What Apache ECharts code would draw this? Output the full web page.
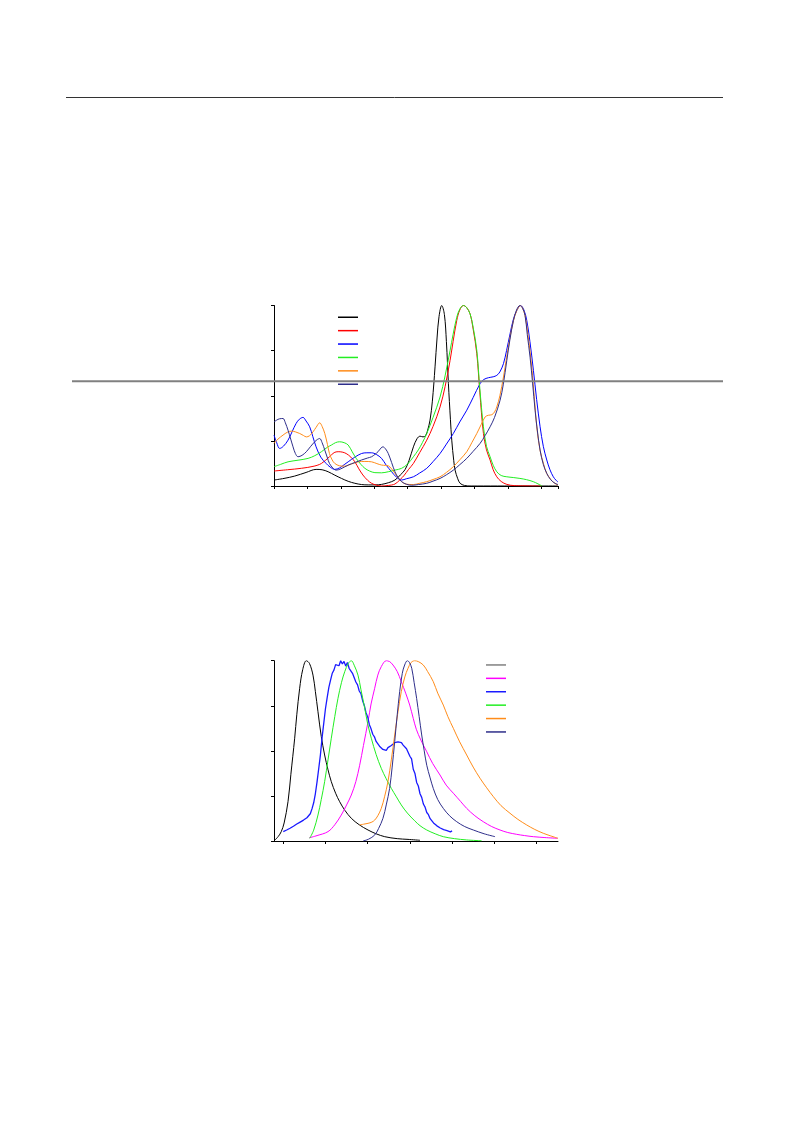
<!DOCTYPE html>
<html>
<head>
<meta charset="utf-8">
<script src="https://cdn.jsdelivr.net/npm/echarts@6/dist/echarts.min.js"></script>
<style>
html,body{margin:0;padding:0;background:#fff;}
#c{width:793px;height:1123px;}
</style>
</head>
<body>
<div id="c"></div>
<script>
// ---------- Chart 1 (absorption) ----------
const absNames = ['A1','A2','A3','A4','A5','A6'];
const absColors = ['#000000','#ff0000','#0000ff','#22ee22','#ff8c1a','#2e2e8a'];
const absBlack = [[250,0.033],[265,0.042],[281,0.055],[298,0.075],[313,0.092],[322,0.09],[331,0.079],[341,0.06],[351,0.042],[361,0.026],[371,0.015],[381,0.008],[391,0.006],[401,0.006],[411,0.009],[421,0.018],[431,0.033],[439,0.061],[446,0.09],[452,0.14],[458.6,0.217],[464,0.262],[468.6,0.276],[473,0.272],[477,0.28],[480,0.31],[483.5,0.365],[487,0.47],[491,0.66],[494,0.82],[497,0.94],[501,1.0],[505,0.95],[508,0.8],[511,0.567],[514,0.37],[516,0.254],[519,0.14],[521,0.088],[525,0.04],[528.5,0.015],[535,0.003],[545,0],[675,0]];
const absRed = [[250,0.083],[270,0.09],[291,0.098],[310,0.11],[321,0.125],[333,0.162],[340,0.185],[346,0.19],[352,0.188],[358,0.18],[365,0.16],[371,0.134],[377,0.095],[383,0.061],[390,0.032],[396,0.015],[403,0.005],[411,0.0],[421,0.003],[431,0.011],[438.6,0.035],[445,0.06],[451,0.09],[458.6,0.125],[468,0.185],[478.6,0.254],[488,0.33],[498.5,0.438],[506,0.55],[513.5,0.696],[518,0.8],[523.5,0.917],[528,0.975],[533.4,1.0],[538,0.99],[543.4,0.954],[548,0.87],[553.5,0.733],[558,0.52],[563.4,0.291],[568,0.2],[573.4,0.144],[578,0.09],[583.4,0.051],[590,0.025],[598.4,0.009],[610,0.002],[650,0]];
const absBlue = [[250,0.282],[254,0.24],[258.5,0.208],[264,0.22],[271,0.254],[277,0.3],[283,0.346],[288,0.37],[293.4,0.38],[298,0.36],[303.4,0.328],[308,0.275],[313,0.217],[320,0.16],[328,0.125],[334,0.105],[341,0.092],[348,0.1],[355,0.118],[361,0.134],[371,0.16],[381,0.18],[389,0.184],[396,0.184],[403,0.175],[411,0.153],[418,0.115],[426,0.079],[433,0.05],[441,0.033],[448,0.04],[458.6,0.051],[468,0.072],[478.6,0.098],[488,0.135],[498.5,0.18],[508,0.232],[518.4,0.291],[528,0.355],[538.5,0.42],[548,0.49],[558.4,0.567],[564,0.59],[571,0.60],[578,0.605],[583.4,0.613],[588,0.632],[593.4,0.678],[598,0.75],[603.3,0.844],[608,0.92],[613.3,0.972],[619,1.0],[624,0.975],[628.3,0.917],[633,0.8],[638.2,0.641],[643,0.48],[648.2,0.328],[653,0.22],[658.2,0.144],[663,0.09],[668,0.051],[672,0.032],[675,0.022]];
const absGreen = [[250,0.107],[260,0.12],[271,0.134],[286,0.143],[301,0.153],[311,0.168],[321,0.19],[330,0.215],[336,0.227],[342,0.24],[348,0.245],[355,0.24],[361,0.227],[367,0.19],[373,0.153],[380,0.12],[386,0.098],[393,0.083],[401,0.074],[411,0.073],[421,0.079],[431,0.088],[441,0.098],[450,0.122],[458.6,0.162],[466,0.2],[472,0.24],[478.6,0.291],[488,0.38],[498.5,0.493],[506,0.61],[513.5,0.751],[518,0.84],[523.5,0.935],[528,0.98],[533.4,1.0],[538,0.99],[543.4,0.954],[548,0.88],[553.5,0.751],[558,0.54],[563.4,0.328],[568,0.22],[573.4,0.162],[578,0.115],[583.4,0.079],[590,0.058],[598.4,0.051],[608,0.047],[618,0.042],[628,0.035],[638,0.024],[645,0.012],[651,0]];
const absOrange = [[250,0.236],[256,0.26],[263.5,0.282],[270,0.298],[276,0.304],[282,0.3],[288.5,0.291],[294,0.28],[298.4,0.272],[303,0.278],[308.4,0.30],[313,0.325],[318.4,0.35],[322,0.33],[326,0.291],[330,0.23],[333,0.18],[337,0.145],[341,0.125],[348,0.112],[356,0.11],[366,0.122],[376,0.134],[386,0.136],[396,0.134],[404,0.124],[411,0.116],[417,0.114],[421,0.112],[426,0.095],[431,0.07],[436,0.045],[441,0.024],[448,0.01],[458.6,0.008],[468,0.015],[478.6,0.024],[488,0.036],[498.5,0.051],[508,0.075],[518.4,0.107],[528,0.145],[538.5,0.19],[546,0.24],[553.5,0.291],[560,0.34],[566,0.383],[571,0.392],[576,0.395],[580,0.41],[583.4,0.438],[588,0.5],[593.4,0.604],[598,0.71],[603.3,0.825],[608,0.91],[613.3,0.972],[619,1.0],[622,0.985],[625.7,0.945],[630,0.84],[635.7,0.659],[640,0.47],[643.2,0.328],[648,0.2],[653.2,0.125],[658,0.07],[663.2,0.042],[668,0.02],[675,0.005]];
const absNavy = [[250,0.355],[254,0.365],[258,0.372],[263.5,0.374],[267,0.35],[271,0.309],[275,0.26],[278.5,0.217],[282,0.18],[286,0.162],[292,0.17],[298.4,0.19],[305,0.22],[311,0.245],[315,0.258],[318.4,0.263],[322,0.24],[326,0.199],[330,0.155],[333,0.125],[338,0.1],[343,0.088],[350,0.095],[361,0.116],[371,0.13],[381,0.144],[390,0.155],[396,0.162],[401,0.175],[405.7,0.19],[410,0.21],[413,0.217],[417,0.205],[421,0.18],[426,0.13],[431,0.079],[436,0.045],[441,0.024],[448,0.01],[456,0.004],[466,0.008],[478.6,0.015],[488,0.027],[498.5,0.042],[508,0.062],[518.4,0.088],[528,0.118],[538.5,0.153],[548,0.192],[558.4,0.236],[566,0.28],[573.4,0.328],[580,0.38],[588.3,0.475],[593,0.56],[598.4,0.696],[603,0.81],[608.3,0.917],[613,0.975],[618,1.0],[622,0.985],[625.7,0.945],[629,0.84],[633.2,0.714],[637,0.57],[640.7,0.42],[644,0.31],[648.2,0.199],[653,0.12],[658.2,0.07],[664,0.035],[670.6,0.015],[675,0.008]];
const absSeries = [absBlack, absRed, absBlue, absGreen, absOrange, absNavy];
const absXMin = 250, absXMax = 675, absXStep = 50;

// ---------- Chart 2 (emission) ----------
const emNames = ['E1','E2','E3','E4','E5','E6'];
const emColors = ['#000000','#ff00ff','#1a1aff','#22ee22','#ff8c1a','#2e2e8a'];
const emLegendColors = ['#808080','#ff00ff','#1a1aff','#22ee22','#ff8c1a','#2e2e8a'];
const emBlack = [[390,0.005],[394,0.025],[397.6,0.052],[401,0.1],[405.6,0.218],[409,0.37],[413.5,0.57],[416,0.7],[419.4,0.847],[423,0.95],[427.3,1.0],[431,0.985],[435.2,0.92],[438,0.83],[441.1,0.717],[445,0.58],[449,0.477],[453,0.395],[456.9,0.329],[462,0.265],[466.8,0.218],[473,0.17],[480.6,0.126],[490,0.09],[500.4,0.061],[510,0.04],[520.2,0.024],[535,0.013],[547.8,0.009],[562,0.004]];
const emMagenta = [[430.8,0.018],[440,0.03],[453,0.052],[461,0.09],[468.7,0.144],[475,0.2],[480.6,0.255],[486,0.33],[490.5,0.42],[495,0.53],[500.4,0.662],[504,0.76],[508.3,0.847],[512,0.92],[516.1,0.967],[522,1.0],[526,0.995],[530,0.976],[535,0.94],[539.8,0.884],[545,0.82],[549.8,0.754],[554,0.68],[557.6,0.62],[563,0.56],[570,0.495],[577,0.43],[585.7,0.366],[593,0.31],[601.5,0.265],[610,0.22],[617.3,0.181],[627,0.14],[637,0.107],[647,0.08],[656.8,0.061],[666,0.047],[676.6,0.037],[686,0.03],[696.3,0.024],[710,0.019],[725,0.015]];
const emBlueX = [400,402,404,406,408,410,412,414,416,418,420,422,424,426,428,430,432,434,436,438,440,442,444,446,448,450,452,454,456,458,460,462,464,466,468,470,472,474,476,478,480,482,484,486,488,490,492,494,496,498,500,502,504,506,508,510,512,514,516,518,520,522,524,526,528,530,532,534,536,538,540,542,544,546,548,550,552,554,556,558,560,562,564,566,568,570,572,574,576,578,580,582,584,586,588,590,592,594,596,598,600];
const emBlueY = [0.052,0.060,0.061,0.070,0.071,0.082,0.082,0.093,0.094,0.103,0.105,0.112,0.116,0.123,0.129,0.140,0.151,0.178,0.212,0.262,0.328,0.402,0.478,0.575,0.655,0.735,0.795,0.852,0.892,0.930,0.948,0.978,0.985,0.972,1.0,0.982,0.996,0.970,0.990,0.958,0.962,0.930,0.920,0.882,0.866,0.832,0.818,0.778,0.752,0.712,0.688,0.645,0.622,0.592,0.578,0.552,0.546,0.526,0.528,0.508,0.516,0.502,0.518,0.520,0.530,0.528,0.545,0.535,0.550,0.540,0.546,0.532,0.532,0.512,0.505,0.470,0.455,0.398,0.375,0.325,0.305,0.262,0.242,0.205,0.188,0.158,0.146,0.124,0.118,0.100,0.098,0.084,0.086,0.072,0.076,0.063,0.068,0.058,0.062,0.051,0.056];
const emGreen = [[431.3,0.015],[436,0.06],[441.1,0.144],[445,0.23],[449,0.329],[453,0.45],[456.9,0.57],[461,0.69],[464.8,0.791],[469,0.88],[472.8,0.939],[477,0.985],[480.6,1.0],[484,0.975],[488.5,0.92],[492,0.84],[496.5,0.736],[500,0.65],[504.3,0.57],[510,0.48],[516.1,0.403],[522,0.345],[528,0.292],[534,0.245],[539.8,0.2],[547,0.155],[555.7,0.112],[562,0.085],[570,0.061],[580,0.04],[589.6,0.024],[603,0.013],[617,0.006],[635,0.001]];
const emOrange = [[490.5,0.089],[495,0.093],[500.4,0.098],[505,0.105],[508.3,0.116],[512,0.14],[516.1,0.181],[520,0.245],[524,0.329],[528,0.45],[532,0.588],[536,0.72],[539.8,0.828],[544,0.91],[547.8,0.958],[551.5,0.99],[555.7,1.0],[560,0.995],[565.9,0.976],[571,0.94],[577.7,0.884],[583,0.82],[589.6,0.754],[595,0.69],[601.5,0.625],[609,0.55],[617.3,0.477],[625,0.41],[633.1,0.348],[641,0.295],[648.9,0.246],[658,0.196],[668.6,0.154],[678,0.12],[688.4,0.089],[698,0.064],[708,0.043],[717,0.028],[725.5,0.015]];
const emNavy = [[494.5,0.0],[501,0.01],[508.3,0.033],[513,0.07],[518.1,0.126],[522,0.2],[526,0.292],[529,0.41],[532,0.551],[535,0.7],[537.9,0.828],[541,0.93],[543.8,0.976],[547,1.0],[549.5,0.99],[552.2,0.958],[555,0.88],[558,0.791],[561,0.69],[564,0.588],[567,0.5],[570,0.42],[574,0.35],[577.7,0.292],[583,0.23],[589.6,0.181],[597,0.14],[605.5,0.107],[615,0.08],[625.2,0.061],[638,0.04],[650.9,0.024]];
const emBlue = emBlueX.map((x, i) => [x, emBlueY[i]]);
const emSeries = [emBlack, emMagenta, emBlue, emGreen, emOrange, emNavy];
const emSmooth = [0.35, 0.35, false, 0.35, 0.35, 0.35];
const emWidth = [1, 1, 1.3, 1, 1, 1];
const emXMin = 389, emXMax = 725.5;
const emXTicks = [400, 450, 500, 550, 600, 650, 700];

// ---------- build ----------
const chart = echarts.init(document.getElementById('c'), null, {renderer: 'canvas'});
const axisLine = {show: true, lineStyle: {color: '#000', width: 1}};
const axisTick = {show: true, inside: false, length: 3, lineStyle: {color: '#000', width: 1}};

const series = [];
absSeries.forEach((d, i) => series.push({
  name: absNames[i], type: 'line', xAxisIndex: 0, yAxisIndex: 0, data: d,
  showSymbol: false, smooth: 0.35, color: absColors[i],
  lineStyle: {width: 1, color: absColors[i]}, silent: true
}));
emSeries.forEach((d, i) => series.push({
  name: emNames[i], type: 'line', xAxisIndex: 1, yAxisIndex: 1, data: d,
  showSymbol: false, smooth: emSmooth[i], color: emColors[i],
  lineStyle: {width: emWidth[i], color: emColors[i]}, silent: true
}));

const legendCommon = {
  orient: 'vertical', icon: 'rect', itemWidth: 20, itemHeight: 1.5,
  itemGap: 11.9, padding: 0, selectedMode: false,
  formatter: () => '', textStyle: {fontSize: 1, lineHeight: 1}
};

chart.setOption({
  animation: false,
  backgroundColor: '#ffffff',
  grid: [
    {left: 274, top: 305.5, width: 284, height: 180.5},
    {left: 274, top: 660.7, width: 284, height: 180.3}
  ],
  xAxis: [
    {type: 'value', gridIndex: 0, min: absXMin, max: absXMax, interval: absXStep,
     axisLine, axisTick, axisLabel: {show: false}, splitLine: {show: false}},
    {type: 'value', gridIndex: 1, min: emXMin, max: emXMax,
     axisLine, axisTick: Object.assign({customValues: emXTicks}, axisTick),
     axisLabel: {show: false, customValues: emXTicks}, splitLine: {show: false}}
  ],
  yAxis: [
    {type: 'value', gridIndex: 0, min: 0, max: 1, interval: 0.25,
     axisLine, axisTick, axisLabel: {show: false}, splitLine: {show: false}},
    {type: 'value', gridIndex: 1, min: 0, max: 1, interval: 0.25,
     axisLine, axisTick, axisLabel: {show: false}, splitLine: {show: false}}
  ],
  legend: [
    Object.assign({}, legendCommon, {left: 338, top: 316.5,
      data: absNames.map((n, i) => ({name: n, itemStyle: {color: absColors[i]}}))}),
    Object.assign({}, legendCommon, {left: 486, top: 664.2,
      data: emNames.map((n, i) => ({name: n, itemStyle: {color: emLegendColors[i]}}))})
  ],
  graphic: [
    {type: 'line', z: 100, silent: true, shape: {x1: 66, y1: 97.5, x2: 723, y2: 97.5},
     style: {stroke: '#333333', lineWidth: 1}},
    {type: 'line', z: 100, silent: true, shape: {x1: 72, y1: 381.3, x2: 723, y2: 381.3},
     style: {stroke: '#808080', lineWidth: 2}}
  ],
  series
});
</script>
</body>
</html>
